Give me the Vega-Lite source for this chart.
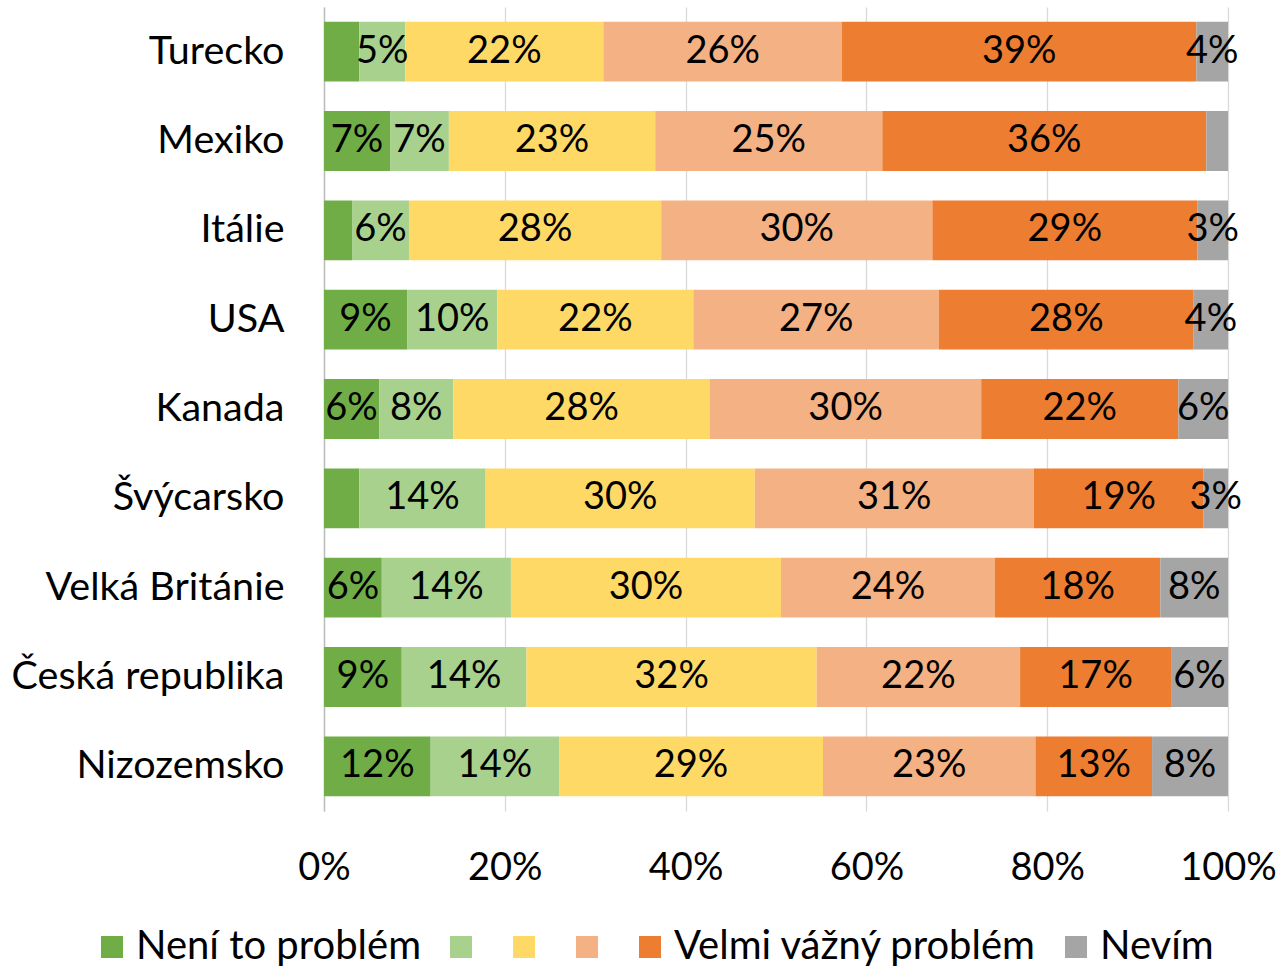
{
  "$schema": "https://vega.github.io/schema/vega-lite/v6.json",
  "width": 904,
  "height": 804,
  "autosize": "none",
  "padding": {"left": 324, "top": 7, "right": 53, "bottom": 158},
  "background": "white",
  "config": {"view": {"stroke": null}, "font": "Lato"},
  "data": {"values": [
    {"country": "Turecko", "cat": 1, "value": 3.9, "label": ""},
    {"country": "Turecko", "cat": 2, "value": 5.1, "label": "5%"},
    {"country": "Turecko", "cat": 3, "value": 21.9, "label": "22%"},
    {"country": "Turecko", "cat": 4, "value": 26.4, "label": "26%"},
    {"country": "Turecko", "cat": 5, "value": 39.2, "label": "39%"},
    {"country": "Turecko", "cat": 6, "value": 3.5, "label": "4%"},
    {"country": "Mexiko", "cat": 1, "value": 7.3, "label": "7%"},
    {"country": "Mexiko", "cat": 2, "value": 6.5, "label": "7%"},
    {"country": "Mexiko", "cat": 3, "value": 22.8, "label": "23%"},
    {"country": "Mexiko", "cat": 4, "value": 25.1, "label": "25%"},
    {"country": "Mexiko", "cat": 5, "value": 35.8, "label": "36%"},
    {"country": "Mexiko", "cat": 6, "value": 2.4, "label": ""},
    {"country": "Itálie", "cat": 1, "value": 3.1, "label": ""},
    {"country": "Itálie", "cat": 2, "value": 6.3, "label": "6%"},
    {"country": "Itálie", "cat": 3, "value": 27.9, "label": "28%"},
    {"country": "Itálie", "cat": 4, "value": 30.0, "label": "30%"},
    {"country": "Itálie", "cat": 5, "value": 29.3, "label": "29%"},
    {"country": "Itálie", "cat": 6, "value": 3.4, "label": "3%"},
    {"country": "USA", "cat": 1, "value": 9.2, "label": "9%"},
    {"country": "USA", "cat": 2, "value": 10.0, "label": "10%"},
    {"country": "USA", "cat": 3, "value": 21.7, "label": "22%"},
    {"country": "USA", "cat": 4, "value": 27.2, "label": "27%"},
    {"country": "USA", "cat": 5, "value": 28.2, "label": "28%"},
    {"country": "USA", "cat": 6, "value": 3.8, "label": "4%"},
    {"country": "Kanada", "cat": 1, "value": 6.1, "label": "6%"},
    {"country": "Kanada", "cat": 2, "value": 8.2, "label": "8%"},
    {"country": "Kanada", "cat": 3, "value": 28.4, "label": "28%"},
    {"country": "Kanada", "cat": 4, "value": 30.0, "label": "30%"},
    {"country": "Kanada", "cat": 5, "value": 21.8, "label": "22%"},
    {"country": "Kanada", "cat": 6, "value": 5.5, "label": "6%"},
    {"country": "Švýcarsko", "cat": 1, "value": 3.9, "label": ""},
    {"country": "Švýcarsko", "cat": 2, "value": 14.0, "label": "14%"},
    {"country": "Švýcarsko", "cat": 3, "value": 29.8, "label": "30%"},
    {"country": "Švýcarsko", "cat": 4, "value": 30.9, "label": "31%"},
    {"country": "Švýcarsko", "cat": 5, "value": 18.8, "label": "19%"},
    {"country": "Švýcarsko", "cat": 6, "value": 2.7, "label": "3%"},
    {"country": "Velká Británie", "cat": 1, "value": 6.4, "label": "6%"},
    {"country": "Velká Británie", "cat": 2, "value": 14.3, "label": "14%"},
    {"country": "Velká Británie", "cat": 3, "value": 29.9, "label": "30%"},
    {"country": "Velká Británie", "cat": 4, "value": 23.7, "label": "24%"},
    {"country": "Velká Británie", "cat": 5, "value": 18.3, "label": "18%"},
    {"country": "Velká Británie", "cat": 6, "value": 7.5, "label": "8%"},
    {"country": "Česká republika", "cat": 1, "value": 8.6, "label": "9%"},
    {"country": "Česká republika", "cat": 2, "value": 13.8, "label": "14%"},
    {"country": "Česká republika", "cat": 3, "value": 32.1, "label": "32%"},
    {"country": "Česká republika", "cat": 4, "value": 22.5, "label": "22%"},
    {"country": "Česká republika", "cat": 5, "value": 16.7, "label": "17%"},
    {"country": "Česká republika", "cat": 6, "value": 6.3, "label": "6%"},
    {"country": "Nizozemsko", "cat": 1, "value": 11.8, "label": "12%"},
    {"country": "Nizozemsko", "cat": 2, "value": 14.2, "label": "14%"},
    {"country": "Nizozemsko", "cat": 3, "value": 29.2, "label": "29%"},
    {"country": "Nizozemsko", "cat": 4, "value": 23.5, "label": "23%"},
    {"country": "Nizozemsko", "cat": 5, "value": 12.9, "label": "13%"},
    {"country": "Nizozemsko", "cat": 6, "value": 8.4, "label": "8%"}
  ]},
  "transform": [
    {"stack": "value", "groupby": ["country"], "sort": [{"field": "cat", "order": "ascending"}], "offset": "normalize", "as": ["x0", "x1"]},
    {"calculate": "(datum.x0 + datum.x1) / 2", "as": "mid"}
  ],
  "encoding": {
    "y": {
      "field": "country", "type": "nominal",
      "sort": ["Turecko", "Mexiko", "Itálie", "USA", "Kanada", "Švýcarsko", "Velká Británie", "Česká republika", "Nizozemsko"],
      "scale": {"paddingInner": 0.33, "paddingOuter": 0.165},
      "axis": {"title": null, "labelFontSize": 39.5, "labelColor": "black", "labelFont": "Lato", "labelPadding": 40, "ticks": false, "domainColor": "#BFBFBF", "domainWidth": 1.5, "grid": false, "labelLimit": 400}
    }
  },
  "layer": [
    {
      "mark": {"type": "bar"},
      "encoding": {
        "x": {"field": "x0", "type": "quantitative", "scale": {"domain": [0, 1], "nice": false},
          "axis": {"title": null, "format": ".0%", "values": [0, 0.2, 0.4, 0.6, 0.8, 1], "labelFontSize": 38, "labelColor": "black", "labelFont": "Lato", "labelPadding": 38, "labelFlush": false, "grid": true, "gridColor": "#D9D9D9", "gridWidth": 1.3, "domain": false, "ticks": false}},
        "x2": {"field": "x1"},
        "color": {
          "field": "cat", "type": "nominal",
          "scale": {"domain": [1, 2, 3, 4, 5, 6], "range": ["#70AD47", "#A9D18E", "#FFD966", "#F4B183", "#ED7D31", "#A5A5A5"]},
          "legend": {
            "title": null, "orient": "none", "direction": "horizontal", "legendX": -232, "legendY": 920,
            "symbolType": "square", "symbolSize": 484, "symbolStrokeWidth": 0, "symbolOpacity": 1,
            "labelFontSize": 40, "labelFont": "Lato", "labelColor": "black", "labelOffset": 4, "columnPadding": 19, "padding": 0,
            "labelExpr": "datum.value == 1 ? 'Není to problém' : datum.value == 5 ? 'Velmi vážný problém' : datum.value == 6 ? 'Nevím' : ''",
            "labelLimit": 500
          }
        }
      }
    },
    {
      "mark": {"type": "text", "fontSize": 38, "font": "Lato", "color": "black", "align": "center", "baseline": "middle"},
      "encoding": {
        "x": {"field": "mid", "type": "quantitative"},
        "text": {"field": "label"}
      }
    }
  ]
}
